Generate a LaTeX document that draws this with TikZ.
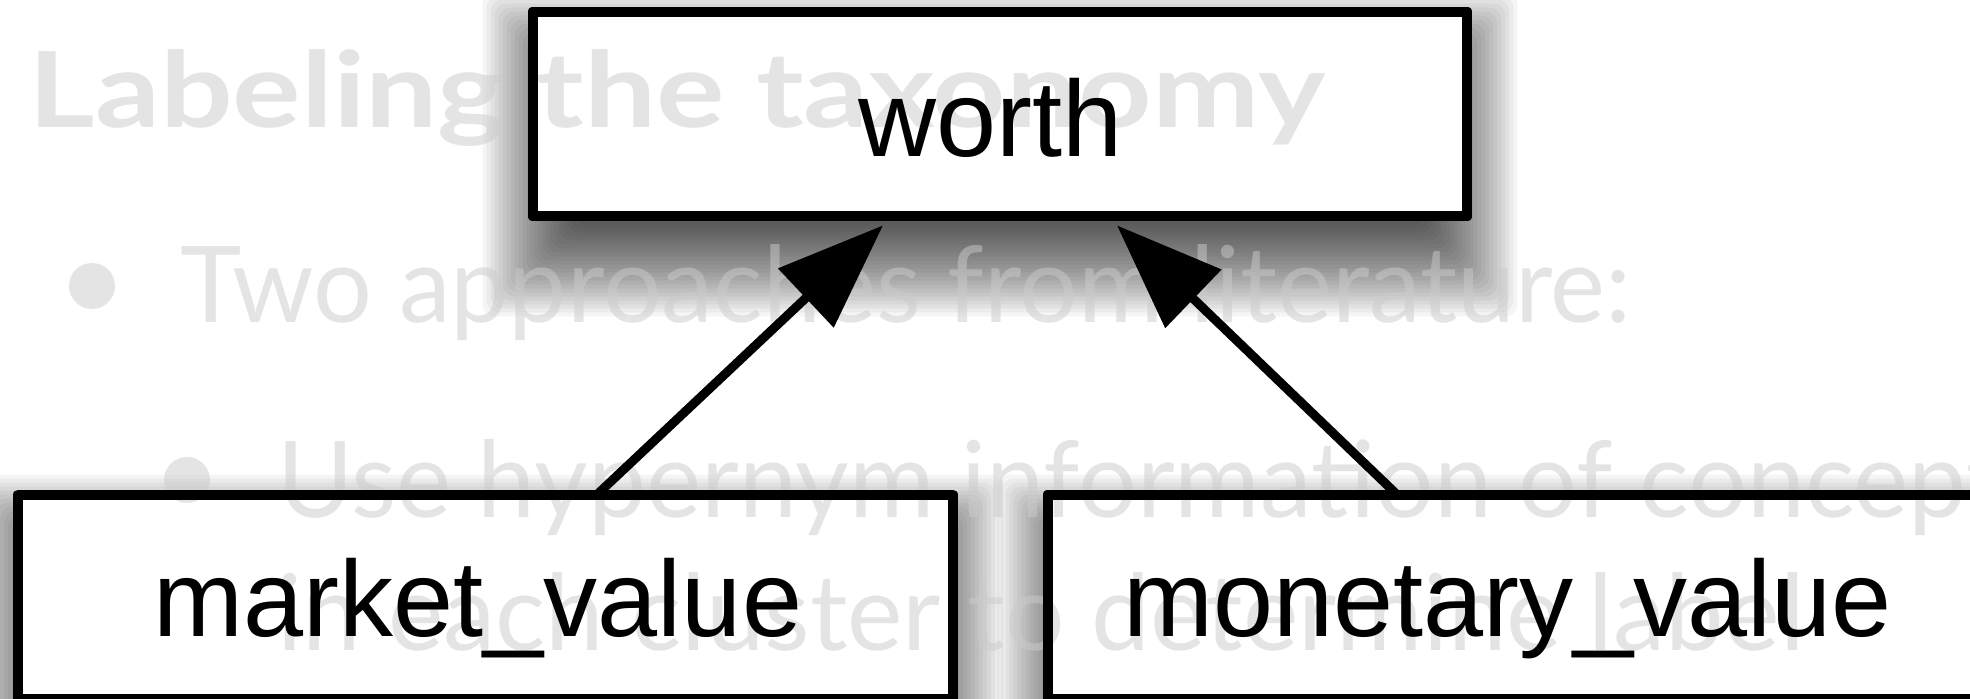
\documentclass[tikz,border=0pt]{standalone}
\usepackage{fontspec}
\setmainfont{Liberation Sans}
\newfontfamily\slidefont{Lato}
\usetikzlibrary{arrows.meta}
\definecolor{fadedtext}{RGB}{203,203,203}
% soft drop shadow: stacked translucent rings around a node, offset downwards
\newcommand\dropshadow[1]{%
  \foreach \e in {30,28,...,-30}{%
    \fill[black, fill opacity=0.04, rounded corners=6pt]
      ([xshift={(5-(\e))*1pt}, yshift={(-20+(\e))*1pt}]#1.north west) rectangle
      ([xshift={(-5+(\e))*1pt}, yshift={(-20-(\e))*1pt}]#1.south east);}}
\begin{document}
\begin{tikzpicture}[x=0.5pt,y=-0.5pt,
  boxshape/.style={rectangle, inner sep=0pt, minimum width=467pt, minimum height=102pt},
  boxline/.style={draw=black, line width=5pt, line join=round},
  lbl/.style={anchor=base, inner sep=0pt, font=\fontsize{54pt}{60pt}\selectfont},
  slide/.style={anchor=base west, inner sep=0pt, text=fadedtext, text opacity=0.5},
  bullet/.style={circle, inner sep=0pt, minimum size=23pt, fill=fadedtext, fill opacity=0.5},
  edge/.style={line width=4.5pt, -{Triangle[length=53pt,width=39.5pt]}}]
\useasboundingbox (0,0) rectangle (1970,699);
\clip (0,0) rectangle (1970,699);
\fill[white] (0,0) rectangle (1970,699);

% boxes
\node[boxshape] (worth) at (1000,114) {};
\node[boxshape] (market) at (485.5,597) {};
\node[boxshape] (monetary) at (1515,597) {};

% shadows, then the white bodies
\dropshadow{worth}
\dropshadow{market}
\dropshadow{monetary}
\fill[white] (worth.north west) rectangle (worth.south east);
\fill[white] (market.north west) rectangle (market.south east);
\fill[white] (monetary.north west) rectangle (monetary.south east);

% slide text behind the diagram
\node[slide, font=\slidefont\bfseries\fontsize{52.5pt}{60pt}\selectfont] (title) at (28,128) {\scalebox{1.22}[1]{Labeling the taxonomy}};
\node[bullet] (b1) at (92,286) {};
\node[slide, font=\slidefont\fontsize{53pt}{60pt}\selectfont] (line1) at (180,323) {\scalebox{0.98}[1]{Two approaches from literature:}};
\node[bullet] (b2) at (187,480) {};
\node[slide, font=\slidefont\fontsize{53pt}{60pt}\selectfont] (line2) at (277,518) {\scalebox{0.98}[1]{Use hypernym information of concepts}};
\node[slide, font=\slidefont\fontsize{53pt}{60pt}\selectfont] (line3) at (277,650) {\scalebox{0.99}[1]{in each cluster to determine label}};

% box outlines
\draw[boxline] (worth.north west) rectangle (worth.south east);
\draw[boxline] (market.north west) rectangle (market.south east);
\draw[boxline] (monetary.north west) rectangle (monetary.south east);

% hypernym links
\draw[edge] ([xshift=55.75pt]market.north) -- ([xshift=-58.5pt,yshift=-4.5pt]worth.south);
\draw[edge] ([xshift=-59pt]monetary.north) -- ([xshift=58.5pt,yshift=-4.5pt]worth.south);

% labels
\node[lbl] (worthtxt) at (991,157) {worth};
\node[lbl] (markettxt) at (478,637) {market\_value};
\node[lbl] (monetarytxt) at (1507.5,637) {monetary\_value};
\end{tikzpicture}
\end{document}
